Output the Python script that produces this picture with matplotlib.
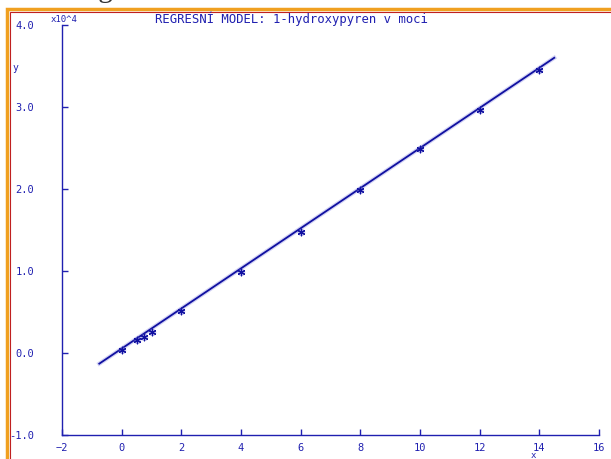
import numpy as np
import matplotlib
matplotlib.use("Agg")
import matplotlib.pyplot as plt
from matplotlib.patches import Rectangle
from matplotlib.ticker import FuncFormatter

# measured points (concentration vs. response), y in real units
x_pts = [0.0, 0.5, 0.75, 1.0, 2.0, 4.0, 6.0, 8.0, 10.0, 12.0, 14.0]
y_pts = [350, 1550, 1900, 2600, 5100, 9900, 14800, 19900, 24900, 29600, 34500]

# fitted regression line end points
x_fit = [-0.75, 14.5]
y_fit = [-1300, 36000]

blue = "#2020b0"
dark = "#1010a0"

fig = plt.figure(figsize=(6.11, 4.59), dpi=100)

# window frame (orange with thin red inside)
fig.patches.append(Rectangle((7/611, -0.05), 1.1, 1.05 - 9/459, transform=fig.transFigure,
                             fill=False, edgecolor="#f0a020", linewidth=2.5, zorder=0))
fig.patches.append(Rectangle((10/611, -0.05), 1.1, 1.05 - 12/459, transform=fig.transFigure,
                             fill=False, edgecolor="#c02020", linewidth=0.8, zorder=0))

# cut-off heading above the frame
fig.text(15/611, 1 + 3/459, "Graf regresního modelu", fontsize=21, family="Liberation Serif",
         va="baseline", ha="left", color="#303030", zorder=5)

ax = fig.add_axes([62/611, 1 - 435/459, (599 - 62)/611, (435 - 25)/459])
ax.plot(x_fit, y_fit, color=dark, linewidth=1.3, zorder=2)
ax.plot(x_fit, y_fit, color="#8080e0", linewidth=3, alpha=0.35, zorder=1)
ax.scatter(x_pts, y_pts, marker=(6, 2, 0), s=22, color=dark, linewidths=0.9, zorder=3)
ax.scatter(x_pts, y_pts, marker="o", s=30, color="#8080e0", alpha=0.4, linewidths=0, zorder=2)

ax.set_xlim(-2, 16)
ax.set_ylim(-10000, 40000)
ax.set_xticks(np.arange(-2, 17, 2))
ax.set_yticks(np.arange(-10000, 40001, 10000))
ax.yaxis.set_major_formatter(FuncFormatter(lambda v, p: f"{v/1e4:.1f}"))

for s in ["top", "right"]:
    ax.spines[s].set_visible(False)
for s in ["left", "bottom"]:
    ax.spines[s].set_color(blue)
    ax.spines[s].set_linewidth(1.0)

ax.tick_params(axis="both", direction="in", length=4, color=blue, labelcolor=blue,
               labelsize=7.5, width=1.0)
ax.tick_params(axis="y", pad=20)
ax.tick_params(axis="x", pad=6)
for lab in ax.get_xticklabels() + ax.get_yticklabels():
    lab.set_family("DejaVu Sans Mono")

fig.text(64/611, 1 - 19/459, "x10^4", fontsize=6.5, color=blue, family="DejaVu Sans Mono",
         ha="center", va="center")
fig.text(15/611, 1 - 68/459, "y", fontsize=7, color=blue, family="DejaVu Sans Mono",
         ha="center", va="center")
fig.text(533/611, 1 - 456/459, "x", fontsize=6.5, color=blue, family="DejaVu Sans Mono",
         ha="center", va="center")
fig.text(291/611, 1 - 19/459, "REGRESNÍ MODEL: 1-hydroxypyren v moci", fontsize=8.8,
         color=blue, family="DejaVu Sans Mono", ha="center", va="center")

fig.savefig("out.png", dpi=100)
